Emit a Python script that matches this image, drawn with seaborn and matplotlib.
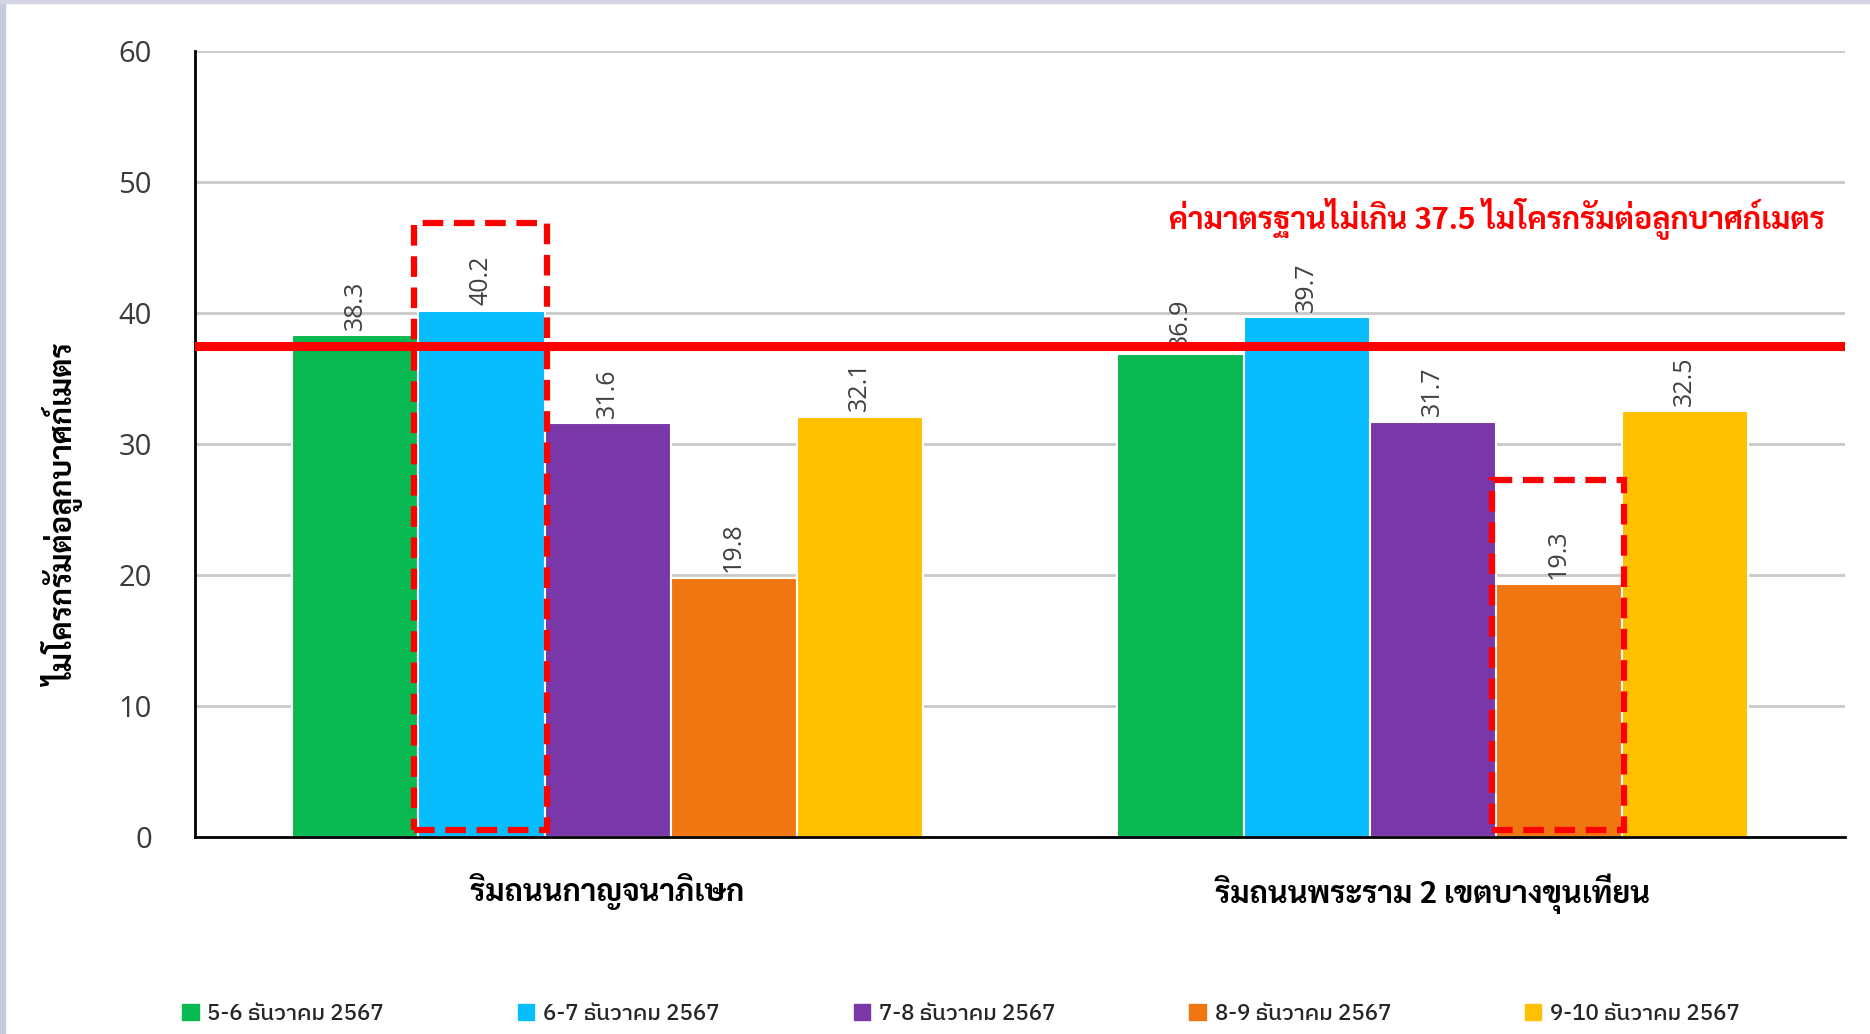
import matplotlib
matplotlib.use("Agg")
import matplotlib.pyplot as plt
from matplotlib.patches import Patch, Rectangle
import pandas as pd
import seaborn as sns

# PM2.5 readings per site and sampling night
locations = ["ริมถนนกาญจนาภิเษก", "ริมถนนพระราม 2 เขตบางขุนเทียน"]
periods = ["5-6 ธันวาคม 2567", "6-7 ธันวาคม 2567", "7-8 ธันวาคม 2567",
           "8-9 ธันวาคม 2567", "9-10 ธันวาคม 2567"]
values_kanchana = [38.3, 40.2, 31.6, 19.8, 32.1]
values_rama2 = [36.9, 39.7, 31.7, 19.3, 32.5]
colors = ["#08b851", "#07bdfd", "#7a37a8", "#f07612", "#ffc000"]

standard_value = 37.5
standard_text = "ค่ามาตรฐานไม่เกิน 37.5 ไมโครกรัมต่อลูกบาศก์เมตร"
y_label = "ไมโครกรัมต่อลูกบาศก์เมตร"
y_ticks = [0, 10, 20, 30, 40, 50, 60]

# highlighted bars: (location index, period index, box top)
highlights = [(0, 1, 46.9), (1, 3, 27.3)]

df = pd.DataFrame({
    "location": [locations[0]] * 5 + [locations[1]] * 5,
    "period": periods * 2,
    "value": values_kanchana + values_rama2,
})

sns.set_theme(style="white")
plt.rcParams["font.family"] = ["Open Sans", "DejaVu Sans"]

fig = plt.figure(figsize=(18.7, 10.34), dpi=100)
ax = fig.add_axes([0.1043, 0.1905, 0.8824, 0.7599])

sns.barplot(data=df, x="location", y="value", hue="period", hue_order=periods,
            palette=colors, saturation=1, width=0.764, edgecolor="white",
            linewidth=1.5, ax=ax, legend=False, zorder=2)

ax.set_ylim(0, 60)
ax.set_xlim(-0.5, 1.5)
ax.set_yticks(y_ticks)
ax.yaxis.grid(True, color="#c9c9c9", linewidth=2, zorder=0)
ax.set_axisbelow(True)
for side in ["top", "right"]:
    ax.spines[side].set_visible(False)
for side in ["left", "bottom"]:
    ax.spines[side].set_color("black")
    ax.spines[side].set_linewidth(2)
ax.tick_params(axis="y", length=0, pad=31, labelsize=21, labelcolor="#3a3a3a")
ax.tick_params(axis="x", length=0, pad=26)
ax.set_xlabel("")
ax.set_ylabel("")
for lab in ax.get_xticklabels():
    lab.set_fontfamily(["Sarabun", "DejaVu Sans"])
    lab.set_fontweight("bold")
    lab.set_fontsize(22)
    lab.set_color("black")

# value labels above each bar
for cont in ax.containers:
    ax.bar_label(cont, fmt="%.1f", rotation=90, padding=4, fontsize=18,
                 color="#404040")

# standard limit line
ax.axhline(standard_value, color="#ff0000", linewidth=6.5, zorder=3)

# dashed boxes around highlighted bars
for loc_i, per_i, top in highlights:
    bar = ax.containers[per_i].patches[loc_i]
    x0 = bar.get_x() - 0.005
    w = bar.get_width() + 0.008
    ax.add_patch(Rectangle((x0, 0.5), w, top - 0.5, fill=False,
                           edgecolor="#ff0000", linewidth=4.5,
                           linestyle=(0, (3.3, 1.7)), zorder=4, clip_on=False))

fig.text(0.976, 0.788, standard_text, color="#ff0000", fontsize=22,
         fontweight="bold", ha="right", va="center",
         family=["Sarabun", "DejaVu Sans"])

fig.text(0.034, 0.502, y_label, rotation=90, ha="center", va="center",
         fontsize=22, fontweight="bold", color="black",
         family=["Sarabun", "DejaVu Sans"])

handles = [Patch(facecolor=c, edgecolor=c) for c in colors]
fig.legend(handles, periods, loc="center left",
           bbox_to_anchor=(0.0866, 0.0193, 0.8546, 0.0), mode="expand",
           ncol=5, frameon=False, handlelength=0.75, handleheight=0.75,
           handletextpad=0.4,
           prop={"family": ["IBM Plex Sans Thai", "DejaVu Sans"], "size": 16,
                 "weight": "medium"})

# thin border strips along the left and top edges
fig.patches.append(Rectangle((0, 0), 0.0025, 1, transform=fig.transFigure,
                             color="#c6cadb", zorder=0))
fig.patches.append(Rectangle((0, 0.997), 1, 0.003, transform=fig.transFigure,
                             color="#d4d4e6", zorder=0))

fig.savefig("out.png", dpi=100)
